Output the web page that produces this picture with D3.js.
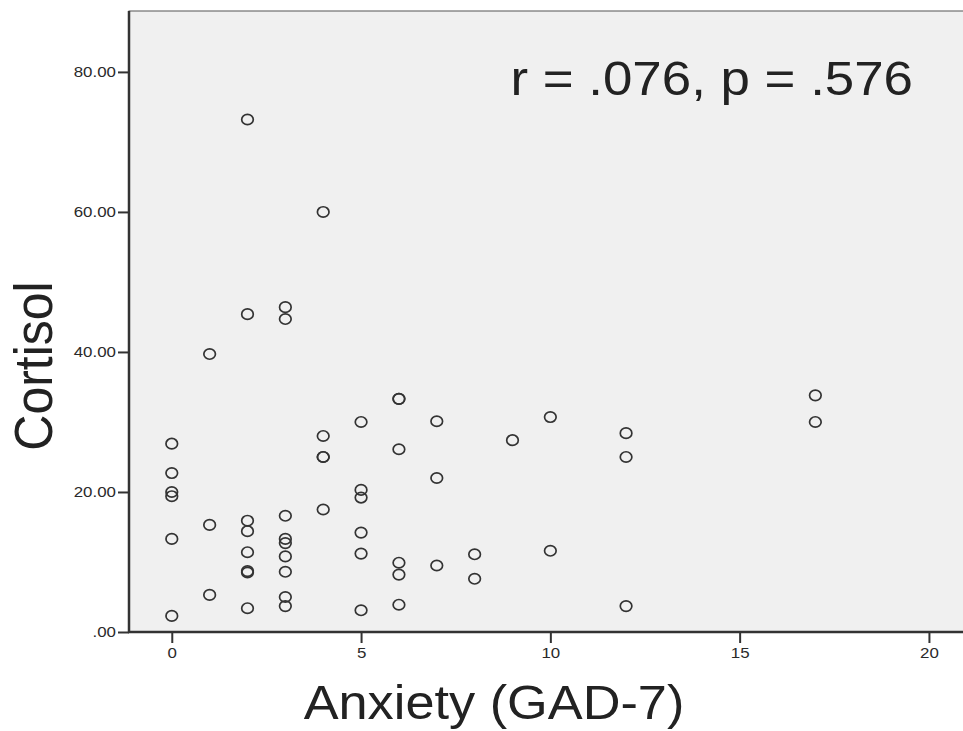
<!DOCTYPE html>
<html>
<head>
<meta charset="utf-8">
<script src="https://cdn.jsdelivr.net/npm/d3@7"></script>
<style>
  body { margin: 0; background: #fff; }
  svg { display: block; font-family: "Liberation Sans", Arial, sans-serif; }
</style>
</head>
<body>
<svg id="chart" width="963" height="731"></svg>
<script>
// one entry per subject: anxiety score and cortisol value
const anxiety = [
  0, 0, 0, 0, 0, 0,
  1, 1, 1,
  2, 2, 2, 2, 2, 2, 2, 2,
  3, 3, 3, 3, 3, 3, 3, 3, 3,
  4, 4, 4, 4, 4,
  5, 5, 5, 5, 5, 5,
  6, 6, 6, 6, 6, 6,
  7, 7, 7,
  8, 8,
  9,
  10, 10,
  12, 12, 12,
  17, 17
];
const cortisol = [
  26.9, 22.7, 20.0, 19.4, 13.3, 2.3,
  39.7, 15.3, 5.3,
  73.2, 45.4, 15.9, 14.4, 11.4, 8.7, 8.5, 3.4,
  46.4, 44.7, 16.6, 13.3, 12.7, 10.8, 8.6, 5.0, 3.7,
  60.0, 28.0, 25.0, 25.0, 17.5,
  30.0, 20.3, 19.2, 14.2, 11.2, 3.1,
  33.3, 33.3, 26.1, 9.9, 8.2, 3.9,
  30.1, 22.0, 9.5,
  11.1, 7.6,
  27.4,
  30.7, 11.6,
  28.4, 25.0, 3.7,
  33.8, 30.0
];
const xTicks = [0, 5, 10, 15, 20];
const yTicks = [0, 20, 40, 60, 80];
const yTickLabels = [".00", "20.00", "40.00", "60.00", "80.00"];
const statText = "r = .076, p = .576";

// the original picture is a little wider than tall, so text is stretched
const stretch = 1.09;

const svg = d3.select("#chart");
const plot = { left: 129, top: 11, right: 964, bottom: 632 };

const x = d3.scaleLinear().domain([-1.13, 20.9]).range([plot.left, 963]);
const y = d3.scaleLinear().domain([0, 88.7]).range([plot.bottom, plot.top]);

// grey plot area
svg.append("rect")
  .attr("x", plot.left).attr("y", plot.top)
  .attr("width", plot.right - plot.left).attr("height", plot.bottom - plot.top)
  .attr("fill", "#f0f0f0").attr("stroke", "#555").attr("stroke-width", 1);

const yAxis = svg.append("g")
  .attr("transform", `translate(${plot.left},0)`)
  .call(d3.axisLeft(y).tickValues(yTicks).tickSize(11).tickPadding(1)
    .tickFormat((d, i) => yTickLabels[i]));

const xAxis = svg.append("g")
  .attr("transform", `translate(0,${plot.bottom})`)
  .call(d3.axisBottom(x).tickValues(xTicks).tickSize(11).tickPadding(4));

[xAxis, yAxis].forEach(g => {
  g.select(".domain").remove();
  g.selectAll("line").attr("stroke", "#333").attr("stroke-width", 2);
  g.selectAll("text").attr("fill", "#2a2a2a").attr("font-size", 15.5)
    .attr("font-family", "'Liberation Sans', Arial, sans-serif")
    .attr("transform", `scale(${stretch},1)`);
});

// axis lines
svg.append("line")
  .attr("x1", plot.left).attr("x2", plot.left)
  .attr("y1", plot.top).attr("y2", plot.bottom + 1)
  .attr("stroke", "#333").attr("stroke-width", 2.5);
svg.append("line")
  .attr("x1", plot.left - 1).attr("x2", 963)
  .attr("y1", plot.bottom).attr("y2", plot.bottom)
  .attr("stroke", "#333").attr("stroke-width", 2.5);

// points
svg.append("g").selectAll("ellipse")
  .data(anxiety.map((a, i) => ({ a, c: cortisol[i] })))
  .join("ellipse")
  .attr("cx", d => x(d.a))
  .attr("cy", d => y(d.c))
  .attr("rx", 5.8).attr("ry", 5.2)
  .attr("fill", "none")
  .attr("stroke", "#333")
  .attr("stroke-width", 1.7);

svg.append("text")
  .attr("transform", `translate(913,95) scale(${stretch},1)`)
  .attr("text-anchor", "end")
  .attr("font-size", 48.5)
  .attr("fill", "#222")
  .text(statText);

svg.append("text")
  .attr("transform", `translate(494,719) scale(${stretch},1)`)
  .attr("text-anchor", "middle")
  .attr("font-size", 48)
  .attr("fill", "#222")
  .text("Anxiety (GAD-7)");

svg.append("text")
  .attr("transform", `translate(52,366) rotate(-90) scale(1,${stretch})`)
  .attr("text-anchor", "middle")
  .attr("font-size", 50)
  .attr("fill", "#222")
  .text("Cortisol");
</script>
</body>
</html>
